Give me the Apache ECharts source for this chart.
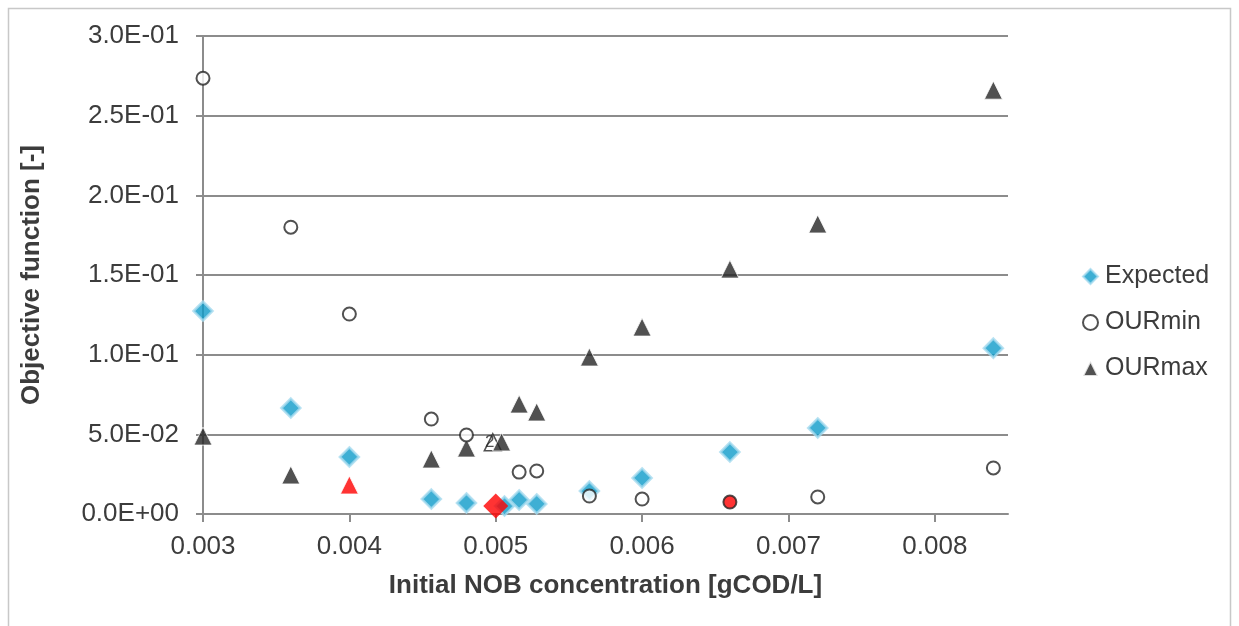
<!DOCTYPE html>
<html>
<head>
<meta charset="utf-8">
<script src="https://cdn.jsdelivr.net/npm/echarts@6/dist/echarts.min.js"></script>
<style>
html,body{margin:0;padding:0;background:#fff;}
#chart{width:1239px;height:626px;}
</style>
</head>
<body>
<div id="chart"></div>
<script>
// ---- data ----
const seriesNames = ['Expected', 'OURmin', 'OURmax'];
const xTickValues = [0.003, 0.004, 0.005, 0.006, 0.007, 0.008];

const expectedX = [0.003, 0.0036, 0.004, 0.00456, 0.0048, 0.00506, 0.00516, 0.00528, 0.00564, 0.006, 0.0066, 0.0072, 0.0084];
const expectedY = [0.1274, 0.0665, 0.0358, 0.0094, 0.0069, 0.0050, 0.0088, 0.0063, 0.0144, 0.0226, 0.0389, 0.0540, 0.1041];

const ourMinX = [0.003, 0.0036, 0.004, 0.00456, 0.0048, 0.00516, 0.00528, 0.00564, 0.006, 0.0066, 0.0072, 0.0084];
const ourMinY = [0.2735, 0.1800, 0.1255, 0.0596, 0.0496, 0.0263, 0.0270, 0.0113, 0.0094, 0.0075, 0.0107, 0.0289];

const ourMaxX = [0.003, 0.0036, 0.004, 0.00456, 0.0048, 0.00504, 0.00516, 0.00528, 0.00564, 0.006, 0.0066, 0.0072, 0.0084];
const ourMaxY = [0.0489, 0.0245, 0.0182, 0.0345, 0.0414, 0.0452, 0.0690, 0.0640, 0.0985, 0.1173, 0.1537, 0.1820, 0.2660];

// highlighted (red) points
const bestExpected = [0.005, 0.0050];
const bestOurMinIndex = 9;   // 0.0066
const bestOurMaxIndex = 2;   // 0.004

// overlapping marker with label "2"
const overlapPoint = [0.00498, 0.0450];
const overlapLabel = '2';

// ---- chart ----
const textColor = '#3c3c3c';
const lineColor = '#8c8c8c';
const font = 'Liberation Sans, Arial, sans-serif';

function expFmt(v) {
  if (v === 0) return '0.0E+00';
  let e = Math.floor(Math.log10(Math.abs(v)) + 1e-9);
  let m = v / Math.pow(10, e);
  if (Math.round(m * 10) / 10 >= 10) { m /= 10; e += 1; }
  const sign = e < 0 ? '-' : '+';
  const ea = Math.abs(e);
  return m.toFixed(1) + 'E' + sign + (ea < 10 ? '0' : '') + ea;
}

const expData = expectedX.map((x, i) => [x, expectedY[i]]);
expData.push({
  value: bestExpected,
  symbolSize: 25,
  itemStyle: { color: '#ff0000', borderColor: '#ff0000', borderWidth: 0 }
});

const minData = ourMinX.map((x, i) => {
  if (i === bestOurMinIndex) {
    return { value: [x, ourMinY[i]], itemStyle: { color: '#ff0000', borderColor: '#262626' } };
  }
  return [x, ourMinY[i]];
});

const maxData = ourMaxX.map((x, i) => {
  if (i === bestOurMaxIndex) {
    return { value: [x, ourMaxY[i]], itemStyle: { color: '#ff0000' } };
  }
  return [x, ourMaxY[i]];
});

const chart = echarts.init(document.getElementById('chart'), null, { renderer: 'canvas' });
chart.setOption({
  backgroundColor: '#ffffff',
  animation: false,
  graphic: [{
    type: 'rect',
    shape: { x: 8.5, y: 8.5, width: 1222, height: 640 },
    style: { fill: 'none', stroke: '#c8c8c8', lineWidth: 1.5 },
    silent: true,
    z: -10
  }],
  grid: { left: 203, right: 231, top: 36, bottom: 112, containLabel: false },
  legend: {
    orient: 'vertical',
    left: 1077,
    top: 259,
    itemWidth: 15,
    itemHeight: 15,
    itemGap: 21,
    data: seriesNames,
    textStyle: { fontFamily: font, fontSize: 25, color: textColor, padding: [0, 0, 0, 2] }
  },
  xAxis: {
    type: 'value',
    min: 0.003,
    max: 0.0085,
    interval: 0.001,
    name: 'Initial NOB concentration [gCOD/L]',
    nameLocation: 'middle',
    nameGap: 59,
    nameTextStyle: { fontFamily: font, fontSize: 26, fontWeight: 'bold', color: textColor },
    axisLine: { show: true, onZero: false, lineStyle: { color: lineColor, width: 2 } },
    axisTick: { show: true, length: 8, lineStyle: { color: lineColor, width: 2 }, customValues: xTickValues },
    axisLabel: {
      margin: 20,
      fontFamily: font, fontSize: 26, color: textColor,
      customValues: xTickValues,
      formatter: v => v.toFixed(3)
    },
    splitLine: { show: false }
  },
  yAxis: {
    type: 'value',
    min: 0,
    max: 0.3,
    interval: 0.05,
    name: 'Objective function [-]',
    nameLocation: 'middle',
    nameGap: 158,
    nameTextStyle: { fontFamily: font, fontSize: 26, fontWeight: 'bold', color: textColor },
    axisLine: { show: true, lineStyle: { color: lineColor, width: 2 } },
    axisTick: { show: true, length: 7, lineStyle: { color: lineColor, width: 2 } },
    axisLabel: {
      margin: 24,
      fontFamily: font, fontSize: 26, color: textColor,
      formatter: v => expFmt(v)
    },
    splitLine: { show: true, lineStyle: { color: lineColor, width: 2 } }
  },
  series: [
    {
      name: 'Expected',
      type: 'scatter',
      symbol: 'diamond',
      symbolSize: 19,
      itemStyle: { color: '#0E9BC9', borderColor: '#A6DBEF', borderWidth: 2.5 },
      data: expData,
      z: 3
    },
    {
      name: 'OURmin',
      type: 'scatter',
      symbol: 'circle',
      symbolSize: 13,
      itemStyle: { color: '#ffffff', borderColor: '#262626', borderWidth: 2 },
      data: minData,
      z: 4
    },
    {
      name: 'OURmax',
      type: 'scatter',
      symbol: 'triangle',
      symbolSize: 18,
      itemStyle: { color: '#262626', borderColor: '#ffffff', borderWidth: 1 },
      data: maxData,
      z: 2
    },
    {
      name: 'overlap',
      type: 'scatter',
      symbol: 'triangle',
      symbolSize: 17,
      itemStyle: { color: '#ffffff', borderColor: '#262626', borderWidth: 1.5 },
      label: {
        show: true, position: 'inside', offset: [-3, 0],
        formatter: () => overlapLabel,
        fontFamily: font, fontSize: 17, color: '#262626'
      },
      data: [overlapPoint],
      z: 1
    }
  ]
});
</script>
</body>
</html>
